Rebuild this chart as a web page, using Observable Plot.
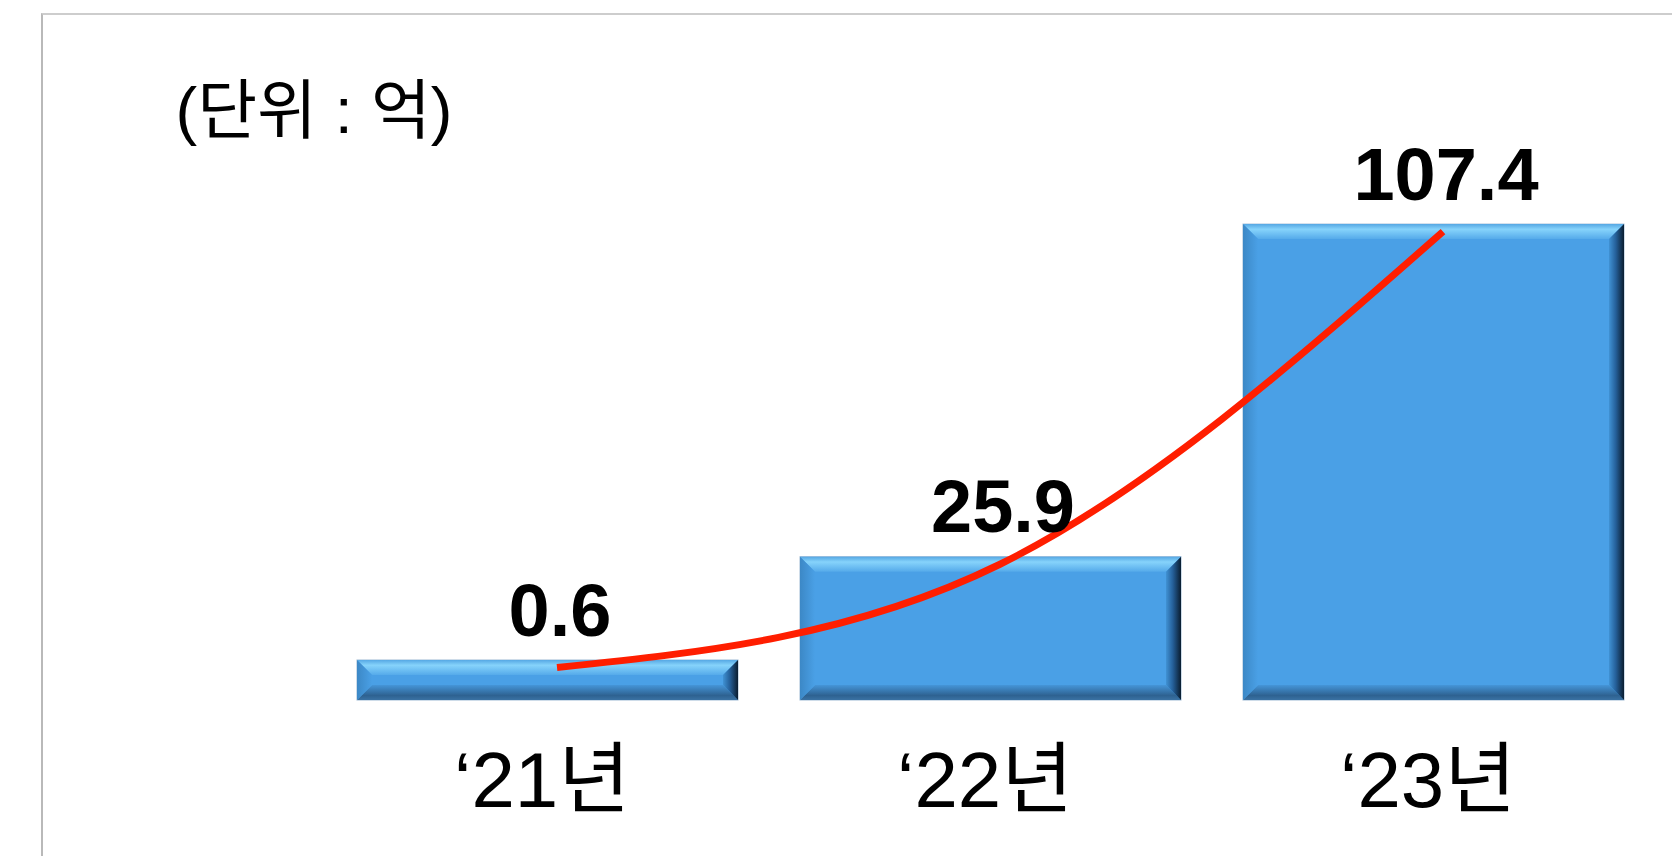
<!DOCTYPE html>
<html><head><meta charset="utf-8">
<script src="https://cdn.jsdelivr.net/npm/d3@7"></script>
<script src="https://cdn.jsdelivr.net/npm/@observablehq/plot@0.6"></script>
<style>
html,body{margin:0;padding:0;background:#fff;width:1672px;height:856px;overflow:hidden}
#wrap{position:relative;width:1672px;height:856px}
#chart{position:absolute;left:0;top:0}
#frame{position:absolute;left:41px;top:13px;width:1700px;height:900px;border-left:2px solid #b9b9b9;border-top:2px solid #cdcdcd;box-sizing:border-box;pointer-events:none}
</style></head><body>
<div id="wrap"><div id="chart"></div><div id="frame"></div></div>
<script>
// ---- data ----
const years = ["\u201821년", "\u201822년", "\u201823년"];
const amounts = [0.6, 25.9, 107.4];
const valueLabels = ["0.6", "25.9", "107.4"];
const unitLabel = "(단위 : 억)";
// y scale domain (the infographic's bars share an offset baseline)
const yBase = -9.2;
const yTop = 162.3;

const data = years.map((year, i) => ({year, value: amounts[i], label: valueLabels[i]}));

const plot = Plot.plot({
  width: 1672,
  height: 856,
  marginLeft: 312,
  marginRight: 4,
  marginTop: 0,
  marginBottom: 156,
  x: {domain: years, paddingInner: 0.14, paddingOuter: 0.1, axis: null},
  y: {domain: [yBase, yTop], axis: null},
  style: {background: "transparent", fontFamily: "'Liberation Sans', Arial, 'Noto Sans CJK KR', sans-serif", overflow: "visible"},
  marks: [
    Plot.barY(data, {x: "year", y1: yBase, y2: "value", fill: "#4aa0e6", stroke: "#9db9d4", strokeWidth: 1}),
    Plot.line(data, {x: "year", y: "value", stroke: "#ff1e00", strokeWidth: 7, curve: "natural", dx: 9, dy: 7, strokeLinecap: "butt"}),
    Plot.text(data, {x: "year", y: "value", text: "label", dx: 12, dy: -25, lineAnchor: "bottom", fontSize: 74, fontWeight: "bold", fill: "#000"}),
    Plot.text(data, {x: "year", text: "year", frameAnchor: "bottom", dx: -6, dy: 106, lineAnchor: "bottom", fontSize: 78, fill: "#000"}),
    Plot.text([unitLabel], {text: d => d, frameAnchor: "top-left", dx: -137, dy: 132, lineAnchor: "bottom", textAnchor: "start", fontSize: 65, fill: "#000"})
  ]
});

// ---- bevel decoration on the bars drawn by Plot ----
const svg = d3.select(plot);
const defs = svg.insert("defs", ":first-child");
function grad(id, x2, y2, stops) {
  const g = defs.append("linearGradient").attr("id", id)
    .attr("x1", 0).attr("y1", 0).attr("x2", x2).attr("y2", y2);
  stops.forEach(([o, c]) => g.append("stop").attr("offset", o).attr("stop-color", c));
}
grad("bevTop", 0, 1, [[0, "#56a8e4"], [0.35, "#86d3fb"], [1, "#55aaea"]]);
grad("bevBot", 0, 1, [[0, "#4595d8"], [0.7, "#2e6291"], [1, "#3a72a3"]]);
grad("bevL", 1, 0, [[0, "#3c88c6"], [1, "#4aa0e6"]]);
grad("bevR", 1, 0, [[0, "#4092d4"], [0.45, "#25609a"], [1, "#0a1d30"]]);

const barG = plot.querySelector('g[aria-label="bar"]');
const bev = document.createElementNS("http://www.w3.org/2000/svg", "g");
bev.setAttribute("aria-label", "bevel");
if (barG.getAttribute("transform")) bev.setAttribute("transform", barG.getAttribute("transform"));
barG.parentNode.insertBefore(bev, barG.nextSibling);
const b = 15;
barG.querySelectorAll("rect").forEach(r => {
  const x = +r.getAttribute("x"), y = +r.getAttribute("y");
  const w = +r.getAttribute("width"), h = +r.getAttribute("height");
  const polys = [
    ["bevTop", [[x, y], [x + w, y], [x + w - b, y + b], [x + b, y + b]]],
    ["bevBot", [[x, y + h], [x + w, y + h], [x + w - b, y + h - b], [x + b, y + h - b]]],
    ["bevL", [[x, y], [x + b, y + b], [x + b, y + h - b], [x, y + h]]],
    ["bevR", [[x + w, y], [x + w - b, y + b], [x + w - b, y + h - b], [x + w, y + h]]]
  ];
  polys.forEach(([id, pts]) => {
    d3.select(bev).append("polygon")
      .attr("points", pts.map(p => p.join(",")).join(" "))
      .attr("fill", `url(#${id})`);
  });
});

document.getElementById("chart").appendChild(plot);
</script>
</body></html>
